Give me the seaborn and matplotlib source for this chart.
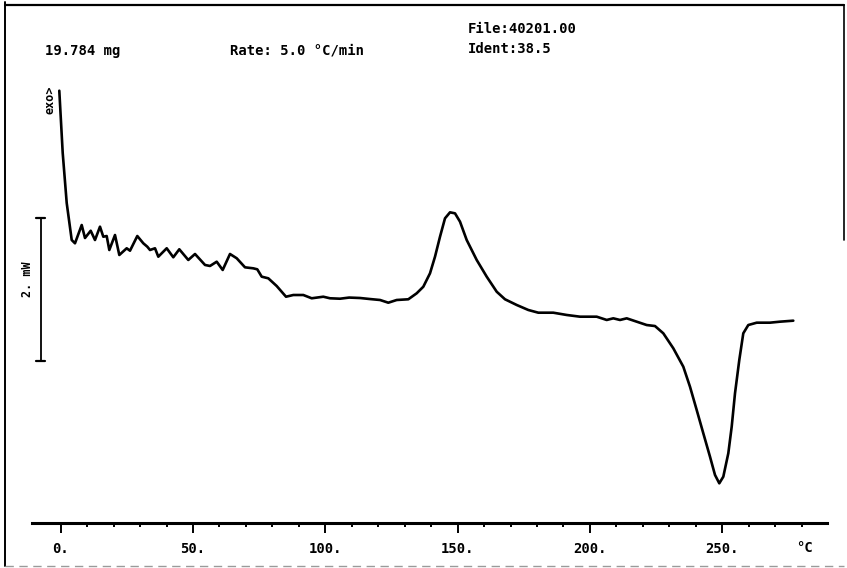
import matplotlib
matplotlib.use("Agg")
import matplotlib.pyplot as plt
from matplotlib.lines import Line2D
from matplotlib.ticker import FixedLocator, FuncFormatter
import seaborn as sns
import pandas as pd

# ---- data (temperature in °C, heat flow in mW, arbitrary offset) ----
temperature = [-0.53, 0.76, 2.27, 4.16, 5.40, 7.94, 9.18, 11.34, 12.96, 14.85, 16.10, 17.38,
               18.37, 20.52, 22.15, 24.94, 26.19, 28.95, 31.22, 32.73, 33.75, 35.64, 36.89,
               40.06, 42.55, 44.82, 48.22, 50.76, 54.54, 56.43, 58.96, 61.22, 63.98, 66.52,
               69.65, 72.79, 74.30, 75.96, 78.46, 81.63, 85.15, 87.91, 91.69, 94.86, 99.24,
               101.78, 105.56, 109.0, 113.1, 117.0, 120.7, 123.81, 126.98, 131.37, 134.54,
               137.04, 139.57, 141.46, 143.35, 145.24, 147.13, 149.02, 150.91, 153.44, 157.22,
               161.00, 164.78, 167.91, 172.34, 176.72, 180.50, 186.17, 191.23, 196.26, 202.57,
               206.35, 208.84, 211.38, 213.91, 217.69, 221.47, 224.60, 227.74, 231.52, 235.30,
               237.83, 240.36, 242.86, 245.39, 247.28, 248.90, 250.42, 252.31, 253.59, 254.84,
               256.46, 257.97, 259.86, 263.04, 268.06, 271.84, 276.87]
heat_flow = [4.336, 3.463, 2.762, 2.243, 2.197, 2.453, 2.271, 2.373, 2.243, 2.430, 2.289, 2.299,
             2.103, 2.313, 2.033, 2.127, 2.093, 2.299, 2.197, 2.149, 2.103, 2.127, 2.009,
             2.127, 2.001, 2.113, 1.963, 2.047, 1.893, 1.879, 1.939, 1.823, 2.047, 1.987,
             1.860, 1.846, 1.832, 1.729, 1.706, 1.598, 1.448, 1.472, 1.472, 1.426, 1.448,
             1.426, 1.420, 1.436, 1.430, 1.415, 1.402, 1.364, 1.402, 1.412, 1.496,
             1.588, 1.776, 2.009, 2.289, 2.547, 2.631, 2.617, 2.500, 2.243, 1.963,
             1.729, 1.518, 1.412, 1.332, 1.262, 1.224, 1.224, 1.192, 1.168, 1.168,
             1.122, 1.145, 1.122, 1.145, 1.098, 1.051, 1.037, 0.935, 0.725, 0.467,
             0.186, -0.140, -0.467, -0.795, -1.051, -1.168, -1.075, -0.747, -0.374, 0.094,
             0.561, 0.935, 1.051, 1.084, 1.084, 1.098, 1.112]

major_ticks = [0, 50, 100, 150, 200, 250]
minor_ticks = [10, 20, 30, 40, 60, 70, 80, 90, 110, 120, 130, 140, 160, 170, 180, 190,
               210, 220, 230, 240, 260, 270, 280]
scale_bar_mw = 2.0
sample_mass = "19.784 mg"
rate_text = "Rate: 5.0 °C/min"
file_text = "File:40201.00"
ident_text = "Ident:38.5"

# ---- layout (pixel mapping of the 847x568 canvas) ----
W, H = 847, 568
X0_PX, X_SCALE = 60.7, 2.646        # px of 0 °C, px per °C
Y0_PX, Y_SCALE = 400.0, 71.33       # px of 0 mW, px per mW

def fx(px):
    return px / W

def fy(py):
    return 1 - py / H

sns.set_style("white")
plt.rcParams["font.family"] = ["DejaVu Sans Mono", "DejaVu Sans"]
plt.rcParams["font.weight"] = "bold"
plt.rcParams["text.color"] = "black"
plt.rcParams["xtick.color"] = "black"
plt.rcParams["xtick.labelcolor"] = "black"

fig = plt.figure(figsize=(W / 100, H / 100), dpi=100)
ax = fig.add_axes([0, 0, 1, 1])
ax.set_xlim(-X0_PX / X_SCALE, (W - X0_PX) / X_SCALE)
ax.set_ylim((Y0_PX - H) / Y_SCALE, Y0_PX / Y_SCALE)
ax.patch.set_alpha(0)

df = pd.DataFrame({"T": temperature, "HF": heat_flow})
sns.lineplot(data=df, x="T", y="HF", sort=False, estimator=None, color="black",
             linewidth=1.9, ax=ax, legend=False)
ax.set_xlabel("")
ax.set_ylabel("")

# x axis as a floating spine
for s in ["top", "right", "left"]:
    ax.spines[s].set_visible(False)
axis_y = (Y0_PX - 523.3) / Y_SCALE
ax.spines["bottom"].set_position(("data", axis_y))
ax.spines["bottom"].set_bounds((31.7 - X0_PX) / X_SCALE, (826.7 - X0_PX) / X_SCALE)
ax.spines["bottom"].set_linewidth(2.2)
ax.spines["bottom"].set_color("black")
ax.xaxis.set_major_locator(FixedLocator(major_ticks))
ax.xaxis.set_minor_locator(FixedLocator(minor_ticks))
ax.xaxis.set_major_formatter(FuncFormatter(lambda v, p: f"{int(v)}."))
ax.tick_params(axis="x", which="major", direction="out", length=7.5, width=1.4,
               pad=6, labelsize=10, colors="black", labelcolor="black", bottom=True)
ax.tick_params(axis="x", which="minor", direction="out", length=3, width=1.4,
               colors="black", bottom=True)
for lbl in ax.get_xticklabels():
    lbl.set_fontweight("bold")
ax.set_yticks([])

# unit label at the axis end
fig.text(fx(804), fy(548), "°C", ha="center", va="center", fontsize=10, fontweight="bold",
         color="black")

# header texts
for px, py, txt in [(45, 51, sample_mass), (230, 50, rate_text),
                    (468, 29, file_text), (468, 49, ident_text)]:
    fig.text(fx(px), fy(py), txt, ha="left", va="center", fontsize=10, fontweight="bold",
             color="black")

# exo arrow label
fig.text(fx(50), fy(100), "exo>", rotation=90, ha="center", va="center", fontsize=8.5,
         fontweight="bold", color="black")

# 2 mW scale bar
bar_x = (40.7 - X0_PX) / X_SCALE
bar_bot = (Y0_PX - 361.0) / Y_SCALE
bar_top = bar_bot + scale_bar_mw
cap = 4.5 / X_SCALE
ax.plot([bar_x, bar_x], [bar_bot, bar_top], color="black", lw=1.3)
ax.plot([bar_x - cap, bar_x + cap], [bar_top, bar_top], color="black", lw=1.6)
ax.plot([bar_x - cap, bar_x + cap], [bar_bot, bar_bot], color="black", lw=1.6)
fig.text(fx(27), fy(279), f"{scale_bar_mw:.0f}. mW", rotation=90, ha="center", va="center",
         fontsize=8.5, fontweight="bold", color="black")

# page frame
frame = [
    ([fx(5), fx(5)], [fy(2), fy(566)], 1.4, "black", "-"),
    ([fx(5), fx(844)], [fy(5), fy(5)], 1.6, "black", "-"),
    ([fx(844), fx(844)], [fy(5), fy(240)], 1.2, "black", "-"),
    ([fx(5), fx(844)], [fy(566), fy(566)], 1.0, "#9a9a9a", (0, (6, 4))),
]
for xs, ys, lw, c, ls in frame:
    fig.add_artist(Line2D(xs, ys, transform=fig.transFigure, lw=lw, color=c, linestyle=ls))

fig.savefig("out.png", dpi=100, facecolor="white")
